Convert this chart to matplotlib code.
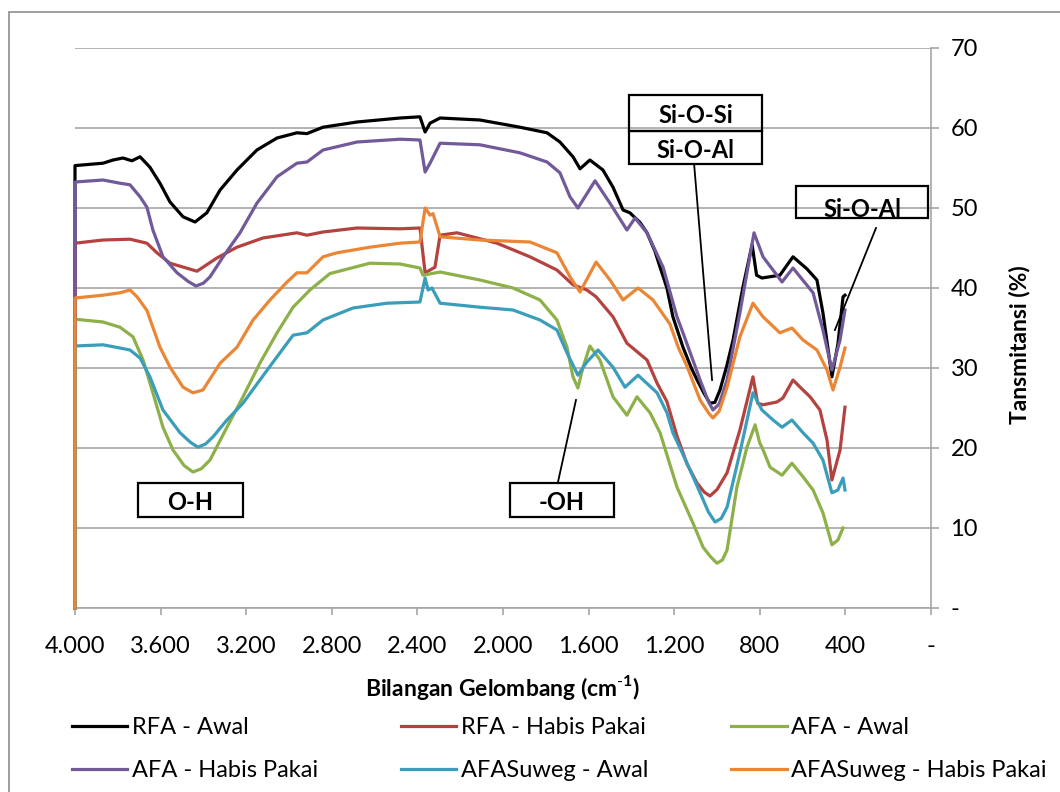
import matplotlib
matplotlib.use("Agg")
import matplotlib.pyplot as plt
from matplotlib.patches import Rectangle

plt.rcParams["font.family"] = ["Lato", "DejaVu Sans"]
plt.rcParams["mathtext.fontset"] = "custom"
plt.rcParams["mathtext.rm"] = "Lato"
plt.rcParams["mathtext.bf"] = "Lato:bold"

# FTIR spectra: wavenumber (cm-1) and transmittance (%) per sample
rfa_awal_wn = [4000, 4000, 3869, 3822, 3776, 3734, 3696, 3650, 3603, 3556, 3495, 3439,
               3384, 3322, 3243, 3150, 3056, 2963, 2916, 2841, 2682, 2481, 2388, 2364,
               2341, 2294, 2108, 1921, 1794, 1734, 1673, 1640, 1594, 1533, 1486, 1439,
               1407, 1360, 1327, 1290, 1266, 1234, 1206, 1159, 1120, 1093, 1060, 1033,
               1010, 986, 955, 925, 879, 836, 815, 790, 706, 645, 580, 533, 505, 463,
               435, 411, 402]
rfa_awal_t = [0, 55.3, 55.6, 56.0, 56.25, 55.9, 56.4, 55.1, 53.1, 50.75, 48.9, 48.25,
              49.4, 52.25, 54.75, 57.25, 58.75, 59.4, 59.3, 60.1, 60.75, 61.25, 61.4, 59.5,
              60.6, 61.25, 61.0, 60.1, 59.4, 58.25, 56.4, 54.9, 56.0, 54.75, 52.6, 49.75,
              49.4, 48.2, 46.9, 44.6, 42.6, 40.0, 36.4, 32.6, 30.0, 28.5, 26.8, 25.6,
              25.7, 27.25, 30.2, 33.5, 40.1, 45.4, 41.6, 41.25, 41.6, 43.9, 42.4, 41.0,
              36.9, 28.9, 33.0, 38.9, 39.1]

rfa_habis_wn = [4000, 4000, 3869, 3743, 3664, 3617, 3556, 3430, 3337, 3243, 3122, 2963,
                2916, 2841, 2682, 2481, 2388, 2364, 2318, 2294, 2215, 2028, 1874, 1748,
                1673, 1608, 1565, 1486, 1421, 1327, 1280, 1234, 1187, 1140, 1093, 1060,
                1033, 1000, 953, 893, 832, 810, 785, 720, 692, 645, 600, 565, 519, 486,
                463, 425, 402]
rfa_habis_t = [0, 45.6, 46.0, 46.1, 45.6, 44.4, 43.1, 42.1, 43.75, 45.1, 46.25, 46.9,
               46.6, 47.0, 47.5, 47.4, 47.5, 41.9, 42.6, 46.6, 46.9, 45.6, 43.9, 42.25,
               40.4, 39.75, 38.9, 36.4, 33.1, 31.0, 28.1, 25.8, 21.5, 18.0, 15.6, 14.5,
               14.0, 14.8, 16.9, 22.25, 28.9, 25.6, 25.4, 25.75, 26.25, 28.5, 27.3, 26.4,
               24.75, 21.0, 16.0, 19.75, 25.1]

afa_awal_wn = [4000, 4000, 3869, 3790, 3729, 3682, 3636, 3589, 3542, 3490, 3449, 3410,
               3369, 3290, 3215, 3136, 3056, 2981, 2902, 2809, 2622, 2481, 2388, 2374,
               2294, 2108, 1953, 1827, 1748, 1701, 1673, 1650, 1626, 1594, 1547, 1486,
               1421, 1374, 1313, 1266, 1187, 1112, 1065, 1030, 1000, 975, 953, 907, 860,
               822, 800, 790, 752, 696, 650, 598, 551, 505, 463, 435, 411]
afa_awal_t = [0, 36.1, 35.75, 35.1, 33.9, 31.0, 26.9, 22.6, 19.75, 17.8, 17.0, 17.4,
              18.5, 22.6, 26.4, 30.6, 34.4, 37.6, 39.75, 41.8, 43.1, 43.0, 42.5, 41.6,
              42.0, 41.0, 40.0, 38.5, 36.0, 32.6, 28.9, 27.5, 30.1, 32.75, 31.0, 26.4,
              24.1, 26.4, 24.4, 21.9, 15.1, 10.6, 7.6, 6.4, 5.6, 6.0, 7.25, 15.1, 20.1,
              22.9, 20.6, 20.1, 17.6, 16.6, 18.1, 16.4, 14.75, 11.9, 7.9, 8.5, 10.0]

afa_habis_wn = [4000, 4000, 3869, 3790, 3743, 3696, 3664, 3636, 3589, 3523, 3470, 3435,
                3400, 3369, 3308, 3229, 3150, 3056, 2963, 2916, 2841, 2682, 2481, 2388,
                2364, 2341, 2294, 2108, 1921, 1794, 1734, 1687, 1650, 1570, 1500, 1421,
                1383, 1327, 1252, 1187, 1159, 1079, 1040, 1019, 990, 953, 893, 827, 785,
                696, 645, 551, 505, 463, 425, 402]
afa_habis_t = [0, 53.25, 53.5, 53.1, 52.9, 51.4, 50.1, 47.25, 43.9, 41.9, 40.8, 40.25,
               40.6, 41.4, 43.9, 46.9, 50.6, 53.9, 55.6, 55.75, 57.25, 58.25, 58.6, 58.5,
               54.5, 55.6, 58.1, 57.9, 56.9, 55.75, 54.4, 51.4, 50.0, 53.4, 50.6, 47.25,
               48.75, 46.9, 42.6, 36.4, 34.4, 28.5, 25.8, 24.75, 25.5, 28.5, 36.9, 46.9,
               43.9, 40.75, 42.5, 39.4, 34.75, 29.75, 33.5, 37.25]

suweg_awal_wn = [4000, 4000, 3869, 3790, 3743, 3696, 3650, 3589, 3509, 3460, 3425, 3390,
                 3355, 3290, 3215, 3136, 3056, 2981, 2916, 2841, 2701, 2542, 2388, 2364,
                 2350, 2332, 2294, 2108, 1953, 1827, 1748, 1701, 1650, 1608, 1556, 1486,
                 1430, 1369, 1280, 1234, 1206, 1140, 1079, 1040, 1009, 980, 953, 893, 832,
                 790, 738, 696, 650, 598, 551, 505, 463, 435, 411, 402]
suweg_awal_t = [0, 32.75, 32.9, 32.5, 32.25, 31.25, 28.9, 24.75, 21.9, 20.7, 20.1, 20.5,
                21.4, 23.5, 25.6, 28.5, 31.4, 34.1, 34.4, 36.0, 37.5, 38.1, 38.25, 41.25,
                39.75, 40.0, 38.1, 37.6, 37.25, 36.0, 34.75, 31.9, 29.1, 30.75, 32.25, 30.1,
                27.6, 29.1, 26.9, 24.4, 21.9, 18.1, 14.4, 12.0, 10.75, 11.2, 12.6, 19.4,
                26.9, 24.75, 23.5, 22.6, 23.5, 21.9, 20.6, 18.5, 14.4, 14.75, 16.25, 14.75]

suweg_habis_wn = [4000, 4000, 3869, 3790, 3743, 3710, 3664, 3603, 3556, 3495, 3449, 3402,
                  3322, 3243, 3168, 3089, 3009, 2963, 2916, 2841, 2776, 2622, 2481, 2388,
                  2364, 2341, 2327, 2294, 2108, 1874, 1748, 1687, 1640, 1565, 1500, 1439,
                  1369, 1299, 1220, 1180, 1140, 1079, 1040, 1019, 990, 953, 893, 832, 785,
                  706, 650, 598, 533, 486, 458, 425, 402]
suweg_habis_t = [0, 38.75, 39.1, 39.4, 39.75, 38.9, 37.2, 32.6, 30.1, 27.6, 26.9, 27.25,
                 30.6, 32.6, 36.0, 38.5, 40.75, 41.9, 41.9, 43.9, 44.4, 45.1, 45.6, 45.75,
                 50.0, 49.1, 49.3, 46.4, 46.0, 45.75, 44.4, 41.4, 39.5, 43.25, 41.0, 38.5,
                 40.0, 38.5, 35.5, 32.5, 30.2, 26.0, 24.4, 23.75, 24.6, 27.6, 33.9, 38.1,
                 36.4, 34.4, 35.0, 33.5, 32.25, 29.75, 27.25, 30.1, 32.5]

series_labels = ["RFA - Awal", "RFA - Habis Pakai", "AFA - Awal",
                 "AFA - Habis Pakai", "AFASuweg - Awal", "AFASuweg - Habis Pakai"]
series_colors = ["#000000", "#B4423F", "#8DB049", "#71599A", "#3A9DBA", "#EB8634"]

x_ticks = [4000, 3600, 3200, 2800, 2400, 2000, 1600, 1200, 800, 400, 0]
x_tick_labels = ["4.000", "3.600", "3.200", "2.800", "2.400", "2.000",
                 "1.600", "1.200", "800", "400", "-"]
y_ticks = [0, 10, 20, 30, 40, 50, 60, 70]
y_tick_labels = ["-", "10", "20", "30", "40", "50", "60", "70"]

grid_color = "#A6A6A6"

fig = plt.figure(figsize=(10.6, 7.92), dpi=100)
ax = fig.add_axes([75 / 1060, 1 - 608 / 792, 856 / 1060, 560 / 792])

spectra = [(rfa_awal_wn, rfa_awal_t), (rfa_habis_wn, rfa_habis_t),
           (afa_awal_wn, afa_awal_t), (afa_habis_wn, afa_habis_t),
           (suweg_awal_wn, suweg_awal_t), (suweg_habis_wn, suweg_habis_t)]
handles = []
for (wn, t), label, color in zip(spectra, series_labels, series_colors):
    line, = ax.plot(wn, t, color=color, lw=2.3, label=label, clip_on=False,
                    solid_joinstyle="round", zorder=3)
    handles.append(line)

ax.set_xlim(4000, 0)
ax.set_ylim(0, 70)
ax.set_xticks(x_ticks)
ax.set_xticklabels(x_tick_labels)
ax.yaxis.tick_right()
ax.set_yticks(y_ticks)
ax.set_yticklabels(y_tick_labels)
ax.yaxis.grid(True, color=grid_color, lw=1.2)
ax.set_axisbelow(True)
for side in ["top", "left"]:
    ax.spines[side].set_visible(False)
for side in ["bottom", "right"]:
    ax.spines[side].set_color(grid_color)
    ax.spines[side].set_linewidth(1.2)
ax.tick_params(axis="x", direction="out", length=5, width=1.2, color=grid_color,
               labelsize=17, pad=15)
ax.tick_params(axis="y", direction="out", length=6, width=1.2, color=grid_color,
               labelsize=17, pad=8)

# band assignment boxes (data coordinates)
def label_box(x0, x1, y0, y1, text, dy=-0.3):
    ax.add_patch(Rectangle((x1, y1), x0 - x1, y0 - y1, fill=False, ec="black",
                           lw=1.6, zorder=5, clip_on=False))
    ax.text((x0 + x1) / 2, (y0 + y1) / 2 + dy, text, ha="center", va="center",
            fontsize=17, fontweight="bold", zorder=6)

label_box(3706, 3215, 15.6, 11.4, "O-H")
label_box(1967, 1481, 15.6, 11.4, "-OH")
label_box(1411, 790, 64.1, 59.6, "Si-O-Si")
label_box(1411, 790, 59.6, 55.5, "Si-O-Al")
label_box(631, 14, 52.75, 48.75, "Si-O-Al", dy=-0.9)

pointers = [((1659, 26.0), (1743, 15.75)),
            ((1107, 55.5), (1023, 28.5)),
            ((257, 47.5), (449, 34.75))]
for (xa, ya), (xb, yb) in pointers:
    ax.plot([xa, xb], [ya, yb], color="black", lw=1.3, zorder=6, clip_on=False)

fig.text(503 / 1060, 1 - 688 / 792, r"Bilangan Gelombang (cm$^{\mathbf{\text{-}1}}$)",
         ha="center", va="center", fontsize=16.5, fontweight="bold")
fig.text(1020 / 1060, 1 - 345 / 792, "Tansmitansi (%)", rotation=90,
         ha="center", va="center", fontsize=16.5, fontweight="bold")

# legend fills row by row: two rows of three
order = [0, 3, 1, 4, 2, 5]
fig.legend([handles[i] for i in order], [series_labels[i] for i in order],
           loc="upper left", bbox_to_anchor=(72 / 1060, 1 - 717 / 792), ncol=3,
           frameon=False, fontsize=17, handlelength=2.35, handletextpad=0.2,
           columnspacing=3.5, labelspacing=0.95, borderpad=0, borderaxespad=0)

# chart frame
fig.add_artist(Rectangle((9 / 1060, -0.1), 1.2, 1.1 - 12 / 792, fill=False,
                         ec="#8C8C8C", lw=1.2, transform=fig.transFigure))

fig.savefig("out.png", dpi=100)
